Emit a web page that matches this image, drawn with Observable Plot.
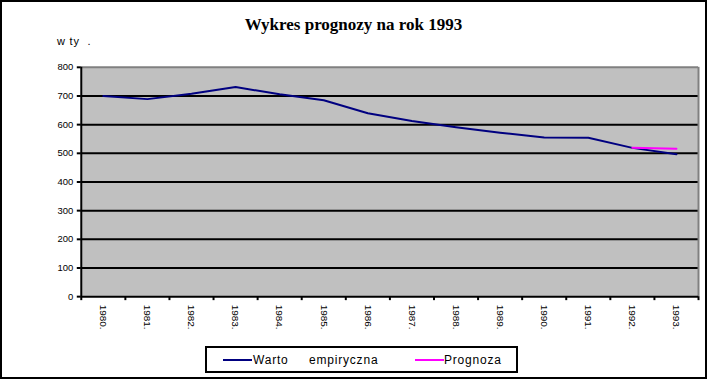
<!DOCTYPE html>
<html><head><meta charset="utf-8">
<script src="https://cdn.jsdelivr.net/npm/d3@7"></script>
<script src="https://cdn.jsdelivr.net/npm/@observablehq/plot@0.6"></script>
<style>
html,body{margin:0;padding:0;background:#fff;}
#wrap{position:relative;width:707px;height:379px;box-sizing:border-box;border:2px solid #000;overflow:hidden;font-family:"Liberation Sans",Arial,sans-serif;}
#plot{position:absolute;left:-2px;top:-2px;}
#title{position:absolute;left:0;width:703px;top:13px;text-align:center;font-family:"Liberation Serif","Times New Roman",serif;font-weight:bold;font-size:17px;color:#000;}
#unit{position:absolute;left:55px;top:33px;font-size:11px;letter-spacing:0.8px;white-space:pre;color:#000;}
#legend{position:absolute;left:203px;top:344px;width:313px;height:27px;box-sizing:border-box;border:2px solid #000;background:#fff;font-size:12px;letter-spacing:0.8px;}
.lbl{position:absolute;top:5px;white-space:pre;}
.sw{position:absolute;top:11px;height:2px;}
</style></head>
<body>
<div id="wrap">
  <div id="plot"></div>
  <div id="title"></div>
  <div id="unit"></div>
  <div id="legend"></div>
</div>
<script>
const titleText = "Wykres prognozy na rok 1993";
const unitText = "w ty  .";
const years = ["1980.","1981.","1982.","1983.","1984.","1985.","1986.","1987.","1988.","1989.","1990.","1991.","1992.","1993."];
const empirical = [700, 689, 708, 731, 706, 685, 640, 613, 591, 572, 555, 554, 519, 497];
const forecastYears = ["1992.","1993."];
const forecast = [519, 516];
const seriesNames = ["Warto", "empiryczna", "Prognoza"];
const seriesColors = ["#000080", "#ff00ff"];
const yTicks = [0,100,200,300,400,500,600,700,800];

document.getElementById("title").textContent = titleText;
document.getElementById("unit").textContent = unitText;

const idx = y => years.indexOf(y) + 0.5;
const empData = years.map((y,i)=>({x: idx(y), v: empirical[i]}));
const fcData = forecastYears.map((y,i)=>({x: idx(y), v: forecast[i]}));

const chart = Plot.plot({
  width: 707, height: 379,
  marginLeft: 81, marginRight: 7, marginTop: 67, marginBottom: 82,
  style: {fontFamily: '"Liberation Sans", Arial, sans-serif', fontSize: "10px", color: "#000", background: "transparent"},
  x: {type: "linear", domain: [0, years.length], axis: null},
  y: {domain: [0, 800], axis: null},
  marks: [
    Plot.frame({fill: "#c0c0c0", stroke: null}),
    Plot.ruleY(yTicks.filter(t => t > 0 && t < 800), {stroke: "#000", strokeWidth: 2}),
    Plot.ruleY([800], {stroke: "#808080", strokeWidth: 2}),
    Plot.ruleX([years.length], {stroke: "#808080", strokeWidth: 2}),
    Plot.ruleX([0], {stroke: "#000", strokeWidth: 2}),
    Plot.ruleY([0], {stroke: "#000", strokeWidth: 2}),
    Plot.axisY({ticks: yTicks, tickSize: 4, tickPadding: 4, label: null, tickFormat: d => String(d), stroke: "#000", strokeWidth: 2, fontSize: 9.5}),
    Plot.axisX({ticks: d3.range(years.length + 1), tickSize: 4, label: null, tickFormat: () => "", stroke: "#000", strokeWidth: 2}),
    Plot.axisX({ticks: years.map(idx), tickSize: 0, tickPadding: 8, label: null, tickRotate: 90, tickFormat: d => years[Math.round(d - 0.5)]}),
    Plot.line(empData, {x: "x", y: "v", stroke: seriesColors[0], strokeWidth: 2}),
    Plot.line(fcData, {x: "x", y: "v", stroke: seriesColors[1], strokeWidth: 2})
  ]
});
document.getElementById("plot").appendChild(chart);

const leg = document.getElementById("legend");
function add(cls, left, width, color, text){
  const d = document.createElement("div");
  d.className = cls;
  d.style.left = left + "px";
  if (width) d.style.width = width + "px";
  if (color) d.style.background = color;
  if (text) d.textContent = text;
  leg.appendChild(d);
}
add("sw", 16, 29, seriesColors[0]);
add("lbl", 46, 0, null, seriesNames[0]);
add("lbl", 102, 0, null, seriesNames[1]);
add("sw", 208, 29, seriesColors[1]);
add("lbl", 237, 0, null, seriesNames[2]);
</script>
</body></html>
